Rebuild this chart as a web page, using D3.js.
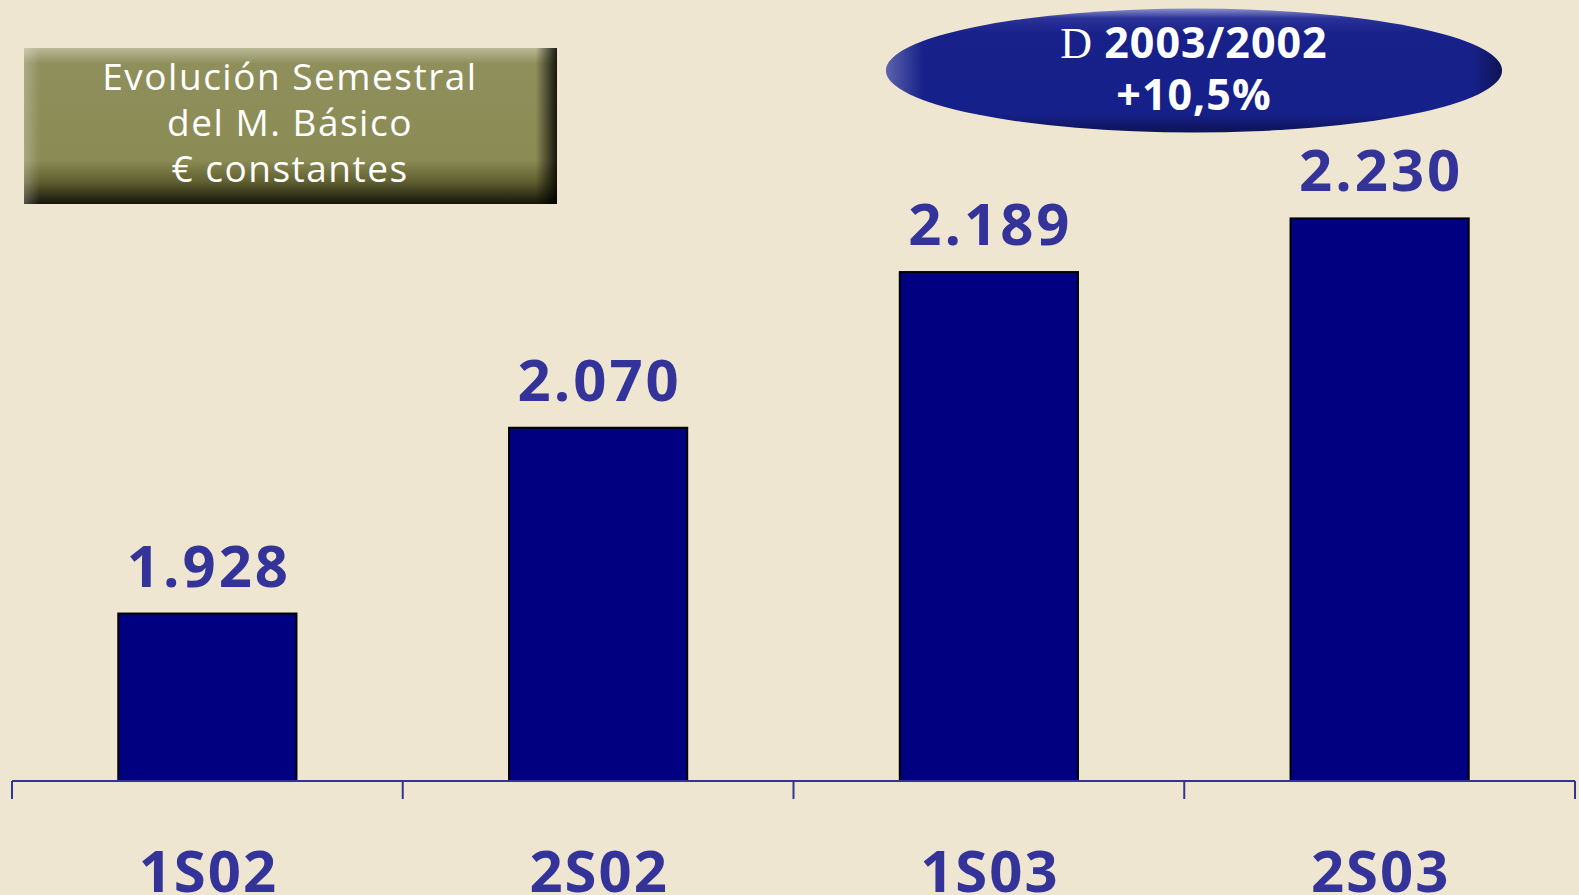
<!DOCTYPE html>
<html>
<head>
<meta charset="utf-8">
<script src="https://cdn.jsdelivr.net/npm/d3@7"></script>
<style>
  html, body { margin: 0; padding: 0; background: #efe6d1; }
  svg { display: block; }
</style>
</head>
<body>
<svg id="chart"></svg>
<script>
// Semestral evolution chart, bars + header boxes
const categories = ["1S02", "2S02", "1S03", "2S03"];
const values = [1928, 2070, 2189, 2230];
const titleLines = ["Evolución Semestral", "del M. Básico", "€ constantes"];
const badgeLines = [["D", " 2003/2002"], ["", "+10,5%"]];

const width = 1579, height = 895;
const svg = d3.select("#chart").attr("width", width).attr("height", height);

svg.append("rect").attr("width", width).attr("height", height).attr("fill", "#efe6d1");

const defs = svg.append("defs");

// olive title box gradients
const gBoxV = defs.append("linearGradient").attr("id", "boxV").attr("x1", 0).attr("y1", 0).attr("x2", 0).attr("y2", 1);
[[0, "#b9b997"], [0.1, "#8f8f5c"], [0.72, "#8b8b55"], [0.86, "#5e5e30"], [1, "#15150a"]]
  .forEach(([o, c]) => gBoxV.append("stop").attr("offset", o).attr("stop-color", c));
const gBoxH = defs.append("linearGradient").attr("id", "boxH").attr("x1", 0).attr("y1", 0).attr("x2", 1).attr("y2", 0);
[[0, "#000", 0], [0.96, "#000", 0], [1, "#000", 0.85]]
  .forEach(([o, c, a]) => gBoxH.append("stop").attr("offset", o).attr("stop-color", c).attr("stop-opacity", a));
const gBoxL = defs.append("linearGradient").attr("id", "boxL").attr("x1", 0).attr("y1", 0).attr("x2", 1).attr("y2", 0);
[[0, "#fff", 0.25], [0.03, "#fff", 0]]
  .forEach(([o, c, a]) => gBoxL.append("stop").attr("offset", o).attr("stop-color", c).attr("stop-opacity", a));

// ellipse gradients
const gEllV = defs.append("linearGradient").attr("id", "ellV").attr("x1", 0).attr("y1", 0).attr("x2", 0).attr("y2", 1);
[[0, "#8a90cc"], [0.08, "#2a3298"], [0.2, "#18218a"], [0.85, "#16208a"], [1, "#0e1456"]]
  .forEach(([o, c]) => gEllV.append("stop").attr("offset", o).attr("stop-color", c));
const gEllH = defs.append("linearGradient").attr("id", "ellH").attr("x1", 0).attr("y1", 0).attr("x2", 1).attr("y2", 0);
[[0, "#fff", 0.3], [0.06, "#fff", 0], [0.95, "#000", 0], [1, "#000", 0.4]]
  .forEach(([o, c, a]) => gEllH.append("stop").attr("offset", o).attr("stop-color", c).attr("stop-opacity", a));

// scales
const x = d3.scaleBand().domain(categories).range([12, 1575]).padding(0);
const y = d3.scaleLinear().domain([1800, 2400]).range([781, -4]);
const barW = x.bandwidth() * 0.456;
const fmt = d3.formatLocale({ decimal: ",", thousands: ".", grouping: [3], currency: ["", "€"] }).format(",d");

// bars
svg.append("g")
  .selectAll("rect")
  .data(values)
  .join("rect")
  .attr("x", (d, i) => x(categories[i]) + (x.bandwidth() - barW) / 2)
  .attr("y", d => y(d))
  .attr("width", barW)
  .attr("height", d => y(1800) - y(d))
  .attr("fill", "#000080")
  .attr("stroke", "#000")
  .attr("stroke-width", 2);

// value labels
const ls = 3;
svg.append("g")
  .selectAll("text")
  .data(values)
  .join("text")
  .attr("x", (d, i) => x(categories[i]) + x.bandwidth() / 2 + ls / 2)
  .attr("y", d => y(d) - 27)
  .attr("text-anchor", "middle")
  .attr("fill", "#333399")
  .style("font", "700 58px 'Open Sans', sans-serif")
  .style("letter-spacing", ls + "px")
  .text(d => fmt(d));

// axis with ticks at band edges
const axisY = y(1800);
const axis = svg.append("g").attr("stroke", "#333399").attr("stroke-width", 2).attr("fill", "none");
axis.append("line").attr("x1", x.range()[0]).attr("x2", x.range()[1]).attr("y1", axisY).attr("y2", axisY);
const edges = categories.map(c => x(c)).concat([x.range()[1]]);
axis.selectAll("line.tick")
  .data(edges)
  .join("line")
  .attr("class", "tick")
  .attr("x1", d => d).attr("x2", d => d)
  .attr("y1", axisY).attr("y2", axisY + 18);

// category labels (cut by the bottom edge like the original)
svg.append("g")
  .selectAll("text")
  .data(categories)
  .join("text")
  .attr("x", d => x(d) + x.bandwidth() / 2 + 1)
  .attr("y", 892)
  .attr("text-anchor", "middle")
  .attr("fill", "#333399")
  .style("font", "700 58px 'Open Sans', sans-serif")
  .style("letter-spacing", "2px")
  .text(d => d);

// title box
const box = { x: 24, y: 48, w: 533, h: 156 };
svg.append("rect").attr("x", box.x).attr("y", box.y).attr("width", box.w).attr("height", box.h).attr("fill", "url(#boxV)");
svg.append("rect").attr("x", box.x).attr("y", box.y).attr("width", box.w).attr("height", box.h).attr("fill", "url(#boxH)");
svg.append("rect").attr("x", box.x).attr("y", box.y).attr("width", box.w).attr("height", box.h).attr("fill", "url(#boxL)");
svg.append("g")
  .selectAll("text")
  .data(titleLines)
  .join("text")
  .attr("x", 290)
  .attr("y", (d, i) => 90 + i * 46)
  .attr("text-anchor", "middle")
  .attr("fill", "#ffffff")
  .style("font", "400 37px 'Open Sans', sans-serif")
  .style("letter-spacing", "1.5px")
  .text(d => d);

// badge ellipse
const ell = { cx: 1194, cy: 70.5, rx: 308, ry: 62 };
svg.append("ellipse").attr("cx", ell.cx).attr("cy", ell.cy).attr("rx", ell.rx).attr("ry", ell.ry).attr("fill", "url(#ellV)");
svg.append("ellipse").attr("cx", ell.cx).attr("cy", ell.cy).attr("rx", ell.rx).attr("ry", ell.ry).attr("fill", "url(#ellH)");
const badge = svg.append("g")
  .selectAll("text")
  .data(badgeLines)
  .join("text")
  .attr("x", ell.cx)
  .attr("y", (d, i) => 58 + i * 52)
  .attr("text-anchor", "middle")
  .attr("fill", "#ffffff");
badge.append("tspan")
  .style("font", "400 44px 'Liberation Serif', serif")
  .text(d => d[0]);
badge.append("tspan")
  .style("font", "700 43px 'Open Sans', sans-serif")
  .style("letter-spacing", "1px")
  .text(d => d[1]);
</script>
</body>
</html>
